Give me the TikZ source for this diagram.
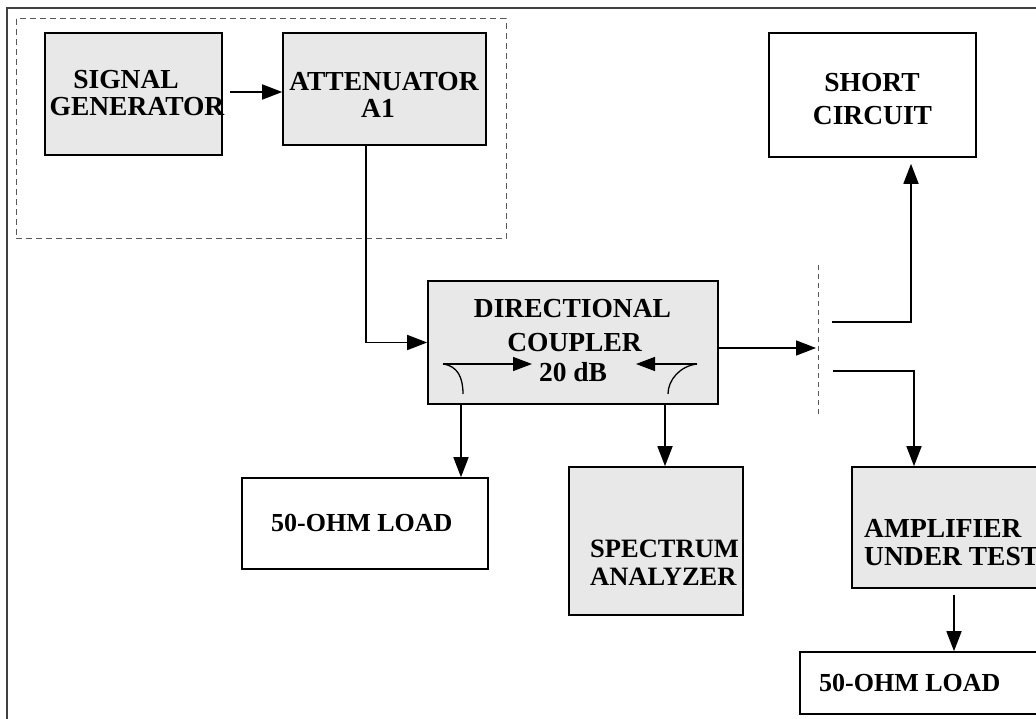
\documentclass[tikz,border=0pt]{standalone}
\usepackage{fontspec}
\setmainfont{Liberation Serif}
\usetikzlibrary{arrows.meta,calc}
\definecolor{boxgray}{HTML}{E8E8E8}
\tikzset{
  box/.style={draw=black, line width=1.6pt, rectangle, inner sep=0pt},
  grey/.style={box, fill=boxgray},
  lbl/.style={font=\bfseries\fontsize{27.5}{28}\selectfont, inner sep=0pt, anchor=base},
  lblw/.style={lbl, anchor=base west},
  arr/.style={line width=1.6pt, -{Triangle[length=20pt,width=15pt]}},
  thinarr/.style={line width=1.3pt, -{Triangle[length=19pt,width=14pt]}},
  grpdash/.style={draw=black!65, line width=1pt, dash pattern=on 6pt off 4pt},
}
\begin{document}
\begin{tikzpicture}[x=1pt,y=-1pt]
\useasboundingbox (0,0) rectangle (1036,719);
\clip (0,0) rectangle (1036,719);
\fill[white] (0,0) rectangle (1036,719);
% outer frame
\draw[black!75, line width=1.6pt] (7,8) rectangle (1050,735);
% dashed group
\draw[grpdash] (16,19) rectangle (506,239);
% boxes
\node[grey, minimum width=177pt, minimum height=122pt] (sg) at (133.5,94) {};
\node[grey, minimum width=203pt, minimum height=112pt] (att) at (384.5,89) {};
\node[grey, minimum width=290pt, minimum height=123pt] (coup) at (573,342.5) {};
\node[box, minimum width=207pt, minimum height=124pt] (short) at (872.5,95) {};
\node[box, minimum width=246pt, minimum height=91pt] (loadA) at (365,523.5) {};
\node[grey, minimum width=174pt, minimum height=148pt] (spec) at (656,541) {};
\node[grey, minimum width=198pt, minimum height=121pt] (amp) at (951,527.5) {};
\node[box, minimum width=250pt, minimum height=62pt] (loadB) at (925,683) {};
% texts
\node[lbl] (t1) at (126,89) {SIGNAL};
\node[lbl] (t2) at (137,116) {GENERATOR};
\node[lbl] (t3) at (384,91) {ATTENUATOR};
\node[lbl] (t4) at (378,118) {A1};
\node[lbl] (t5) at (572.5,318) {DIRECTIONAL};
\node[lbl] (t6) at (574.5,351) {COUPLER};
\node[lbl] (t7) at (573,381) {20 dB};
\node[lbl] (t8) at (872,92) {SHORT};
\node[lbl] (t9) at (872.5,125) {CIRCUIT};
\node[lblw, font=\bfseries\fontsize{26}{28}\selectfont] (t10) at (271,531) {50-OHM LOAD};
\node[lblw, font=\bfseries\fontsize{26.5}{28}\selectfont] (t11) at (590,557) {SPECTRUM};
\node[lblw, font=\bfseries\fontsize{26.5}{28}\selectfont] (t12) at (590,585) {ANALYZER};
\node[lblw] (t13) at (864,537) {AMPLIFIER};
\node[lblw] (t14) at (864,565) {UNDER TEST};
\node[lblw, font=\bfseries\fontsize{26}{28}\selectfont] (t15) at (819,691) {50-OHM LOAD};
% coupler symbol
\draw[thinarr] (443,364) -- (532,364);
\draw[line width=1.3pt] (443,364) .. controls (458,366) and (463,378) .. (463,394);
\draw[thinarr] (697,364) -- (636,364);
\draw[line width=1.3pt] (697,364) .. controls (680,366) and (668,380) .. (668,394);
% split point
\coordinate (split) at (816,348);
\coordinate (dtop) at (818,265);
\coordinate (dbot) at (818,415);
\coordinate (up) at (832,322);
\coordinate (lo) at (833,371);
\draw[grpdash, dash pattern=on 5pt off 4pt] (dtop) -- (dbot);
% connectors
\draw[arr] ([shift={(7pt,2pt)}]sg.east) -- ([yshift=-3pt]att.west);
\draw[arr] ([xshift=-18.5pt]att.south) |- (coup.west);
\draw[arr] ([yshift=-5.5pt]coup.east) -- (split);
\draw[arr] (up) -| ([shift={(38.5pt,-6pt)}]short.south);
\draw[arr] (lo) -| ([xshift=-37pt]amp.north);
\draw[arr] ([shift={(3pt,-6pt)}]amp.south) -- ([xshift=29pt]loadB.north);
\draw[arr] ([xshift=-112pt]coup.south) -- ([xshift=-112pt]coup.south |- loadA.north);
\draw[arr] ([xshift=92pt]coup.south) -- ([xshift=92pt]coup.south |- spec.north);
\end{tikzpicture}
\end{document}
